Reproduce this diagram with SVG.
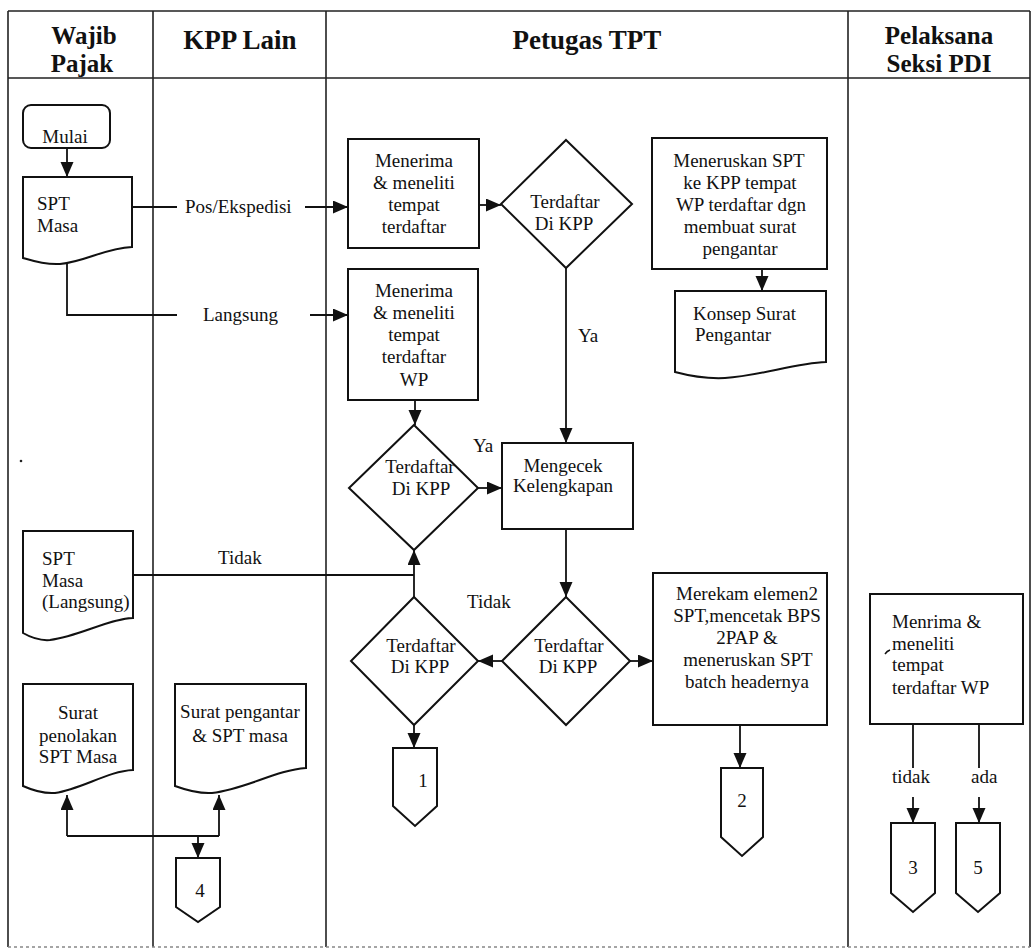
<svg xmlns="http://www.w3.org/2000/svg" width="1033" height="951" viewBox="0 0 1033 951">
  <style>
    text { font-family: 'Liberation Serif', 'DejaVu Serif', serif; fill: #111; }
    .h { font-size: 27px; font-weight: bold; text-anchor: middle; }
    .h2 { font-size: 25px; }
    .t { font-size: 19px; }
    .c { text-anchor: middle; }
    .lane { stroke: #222; stroke-width: 1.6; fill: none; }
    .shape { fill: #fff; stroke: #111; stroke-width: 2; }
    .conn { stroke: #111; stroke-width: 1.8; fill: none; }
    .arr { marker-end: url(#ah); }
  </style>
  <defs>
    <marker id="ah" markerUnits="userSpaceOnUse" markerWidth="16" markerHeight="14" refX="15" refY="6.5" orient="auto">
      <path d="M0,0 L15,6.5 L0,13 Z" fill="#111"/>
    </marker>
  </defs>
  <rect width="1033" height="951" fill="#fff"/>

  <!-- swimlane frame -->
  <g id="lanes">
    <path class="lane" d="M8,11 H1030 M8,78 H1030 M8,11 V947 M153,11 V947 M326,11 V947 M848,11 V947 M1030,11 V947"/>
    <path d="M8,947 H1030" stroke="#888" stroke-width="1.4" stroke-dasharray="3 3" fill="none"/>
    <text class="h h2" x="84" y="44">Wajib</text>
    <text class="h h2" x="82" y="72">Pajak</text>
    <text class="h" x="240" y="49">KPP Lain</text>
    <text class="h" x="587" y="49">Petugas TPT</text>
    <text class="h h2" x="939" y="44">Pelaksana</text>
    <text class="h h2" x="939" y="72">Seksi PDI</text>
  </g>

  <!-- connectors -->
  <g id="connectors">
    <path class="conn arr" d="M67,131 V177"/>
    <path class="conn" d="M132,207 H177"/>
    <path class="conn arr" d="M305,207 H348"/>
    <path class="conn" d="M67,264 V315 H177"/>
    <path class="conn arr" d="M310,315 H348"/>
    <path class="conn arr" d="M479,205 H501"/>
    <path class="conn arr" d="M566,268 V443"/>
    <path class="conn arr" d="M762,269 V291"/>
    <path class="conn arr" d="M415,400 V425"/>
    <path class="conn arr" d="M478,488 H502"/>
    <path class="conn arr" d="M566,529 V597"/>
    <path class="conn arr" d="M502,661 H478"/>
    <path class="conn arr" d="M630,661 H653"/>
    <path class="conn" d="M133,575 H414"/>
    <path class="conn arr" d="M414,597 V550"/>
    <path class="conn arr" d="M414,725 V748"/>
    <path class="conn arr" d="M740,725 V768"/>
    <path class="conn" d="M913,724 V768 M979,724 V768"/>
    <path class="conn arr" d="M913,797 V823"/>
    <path class="conn arr" d="M979,797 V823"/>
    <path class="conn" d="M67,836 H219"/>
    <path class="conn arr" d="M67,836 V795"/>
    <path class="conn arr" d="M219,836 V795"/>
    <path class="conn arr" d="M198,836 V858"/>
    <text class="t" x="185" y="213">Pos/Ekspedisi</text>
    <text class="t" x="203" y="321">Langsung</text>
    <text class="t" x="578" y="342">Ya</text>
    <text class="t" x="473" y="452">Ya</text>
    <text class="t" x="218" y="564">Tidak</text>
    <text class="t" x="467" y="608">Tidak</text>
    <text class="t" x="892" y="783">tidak</text>
    <text class="t" x="971" y="783">ada</text>
  </g>

  <!-- Wajib Pajak lane -->
  <g id="mulai">
    <rect class="shape" x="23" y="105" width="87" height="43" rx="8"/>
    <text class="t c" x="65" y="143">Mulai</text>
  </g>
  <g id="spt-masa">
    <path class="shape" d="M23,177 H132 V247 C105,248 85,262 60,264 C45,265 33,261 23,258 Z"/>
    <text class="t" x="37" y="210">SPT</text>
    <text class="t" x="37" y="232">Masa</text>
  </g>
  <g id="spt-langsung">
    <path class="shape" d="M23,531 H133 V618 C108,619 80,636 50,640 C38,641 30,637 23,633 Z"/>
    <text class="t" x="42" y="565">SPT</text>
    <text class="t" x="42" y="587">Masa</text>
    <text class="t" x="42" y="608">(Langsung)</text>
  </g>
  <g id="surat-penolakan">
    <path class="shape" d="M23,684 H133 V770 C108,771 82,789 55,793 C42,794 32,790 23,786 Z"/>
    <text class="t c" x="78" y="719">Surat</text>
    <text class="t c" x="78" y="742">penolakan</text>
    <text class="t c" x="78" y="763">SPT Masa</text>
  </g>
  <circle cx="21" cy="461" r="1.3" fill="#222"/>

  <!-- KPP Lain lane -->
  <g id="surat-pengantar">
    <path class="shape" d="M175,684 H306 V768 C276,770 246,789 212,793 C198,794 186,790 175,786 Z"/>
    <text class="t c" x="240" y="718">Surat pengantar</text>
    <text class="t c" x="240" y="742">&amp; SPT masa</text>
  </g>
  <g id="off-4">
    <path class="shape" d="M176,858 H220 V907 L198,922 L176,907 Z"/>
    <text class="t c" x="200" y="897">4</text>
  </g>

  <!-- Petugas TPT lane -->
  <g id="terima-pos">
    <rect class="shape" x="348" y="139" width="131" height="109"/>
    <text class="t c" x="414" y="167">Menerima</text>
    <text class="t c" x="414" y="189">&amp; meneliti</text>
    <text class="t c" x="414" y="211">tempat</text>
    <text class="t c" x="414" y="233">terdaftar</text>
  </g>
  <g id="cek-kpp-1">
    <path class="shape" d="M566,140 L632,204 L566,268 L501,204 Z"/>
    <text class="t c" x="565" y="208">Terdaftar</text>
    <text class="t c" x="564" y="230">Di KPP</text>
  </g>
  <g id="terima-langsung">
    <rect class="shape" x="348" y="269" width="130" height="131"/>
    <text class="t c" x="414" y="297">Menerima</text>
    <text class="t c" x="414" y="319">&amp; meneliti</text>
    <text class="t c" x="414" y="341">tempat</text>
    <text class="t c" x="414" y="363">terdaftar</text>
    <text class="t c" x="414" y="386">WP</text>
  </g>
  <g id="cek-kpp-2">
    <path class="shape" d="M414,425 L478,488 L414,550 L349,488 Z"/>
    <text class="t c" x="420" y="473">Terdaftar</text>
    <text class="t c" x="421" y="495">Di KPP</text>
  </g>
  <g id="mengecek">
    <rect class="shape" x="502" y="443" width="131" height="86"/>
    <text class="t c" x="563" y="472">Mengecek</text>
    <text class="t c" x="563" y="492">Kelengkapan</text>
  </g>
  <g id="cek-kpp-3">
    <path class="shape" d="M566,597 L630,661 L566,725 L502,661 Z"/>
    <text class="t c" x="569" y="652">Terdaftar</text>
    <text class="t c" x="568" y="673">Di KPP</text>
  </g>
  <g id="cek-kpp-4">
    <path class="shape" d="M414,597 L478,661 L414,725 L351,661 Z"/>
    <text class="t c" x="421" y="652">Terdaftar</text>
    <text class="t c" x="420" y="673">Di KPP</text>
  </g>
  <g id="off-1">
    <path class="shape" d="M393,748 H437 V806 L415,826 L393,806 Z"/>
    <text class="t c" x="423" y="787">1</text>
  </g>
  <g id="meneruskan">
    <rect class="shape" x="652" y="138" width="175" height="131"/>
    <text class="t c" x="739" y="167">Meneruskan SPT</text>
    <text class="t c" x="740" y="189">ke KPP tempat</text>
    <text class="t c" x="741" y="211">WP terdaftar dgn</text>
    <text class="t c" x="740" y="233">membuat surat</text>
    <text class="t c" x="740" y="255">pengantar</text>
  </g>
  <g id="konsep">
    <path class="shape" d="M675,291 H826 V362 C795,363 760,376 725,378 C705,379 690,376 675,372 Z"/>
    <text class="t" x="693" y="320">Konsep Surat</text>
    <text class="t" x="695" y="341">Pengantar</text>
  </g>
  <g id="merekam">
    <rect class="shape" x="653" y="573" width="174" height="152"/>
    <text class="t c" x="747" y="600">Merekam elemen2</text>
    <text class="t c" x="747" y="622">SPT,mencetak BPS</text>
    <text class="t c" x="747" y="644">2PAP &amp;</text>
    <text class="t c" x="748" y="666">meneruskan SPT</text>
    <text class="t c" x="747" y="688">batch headernya</text>
  </g>
  <g id="off-2">
    <path class="shape" d="M721,768 H763 V837 L742,856 L721,837 Z"/>
    <text class="t c" x="742" y="807">2</text>
  </g>

  <!-- Pelaksana Seksi PDI lane -->
  <g id="menrima">
    <rect class="shape" x="870" y="594" width="153" height="130"/>
    <path d="M885,654 Q887,651 890,650" stroke="#111" stroke-width="1.4" fill="none"/>
    <text class="t" x="892" y="628">Menrima &amp;</text>
    <text class="t" x="892" y="650">meneliti</text>
    <text class="t" x="892" y="671">tempat</text>
    <text class="t" x="892" y="694">terdaftar WP</text>
  </g>
  <g id="off-3">
    <path class="shape" d="M891,823 H935 V893 L913,912 L891,893 Z"/>
    <text class="t c" x="913" y="874">3</text>
  </g>
  <g id="off-5">
    <path class="shape" d="M956,823 H1000 V893 L978,912 L956,893 Z"/>
    <text class="t c" x="978" y="874">5</text>
  </g>
</svg>
